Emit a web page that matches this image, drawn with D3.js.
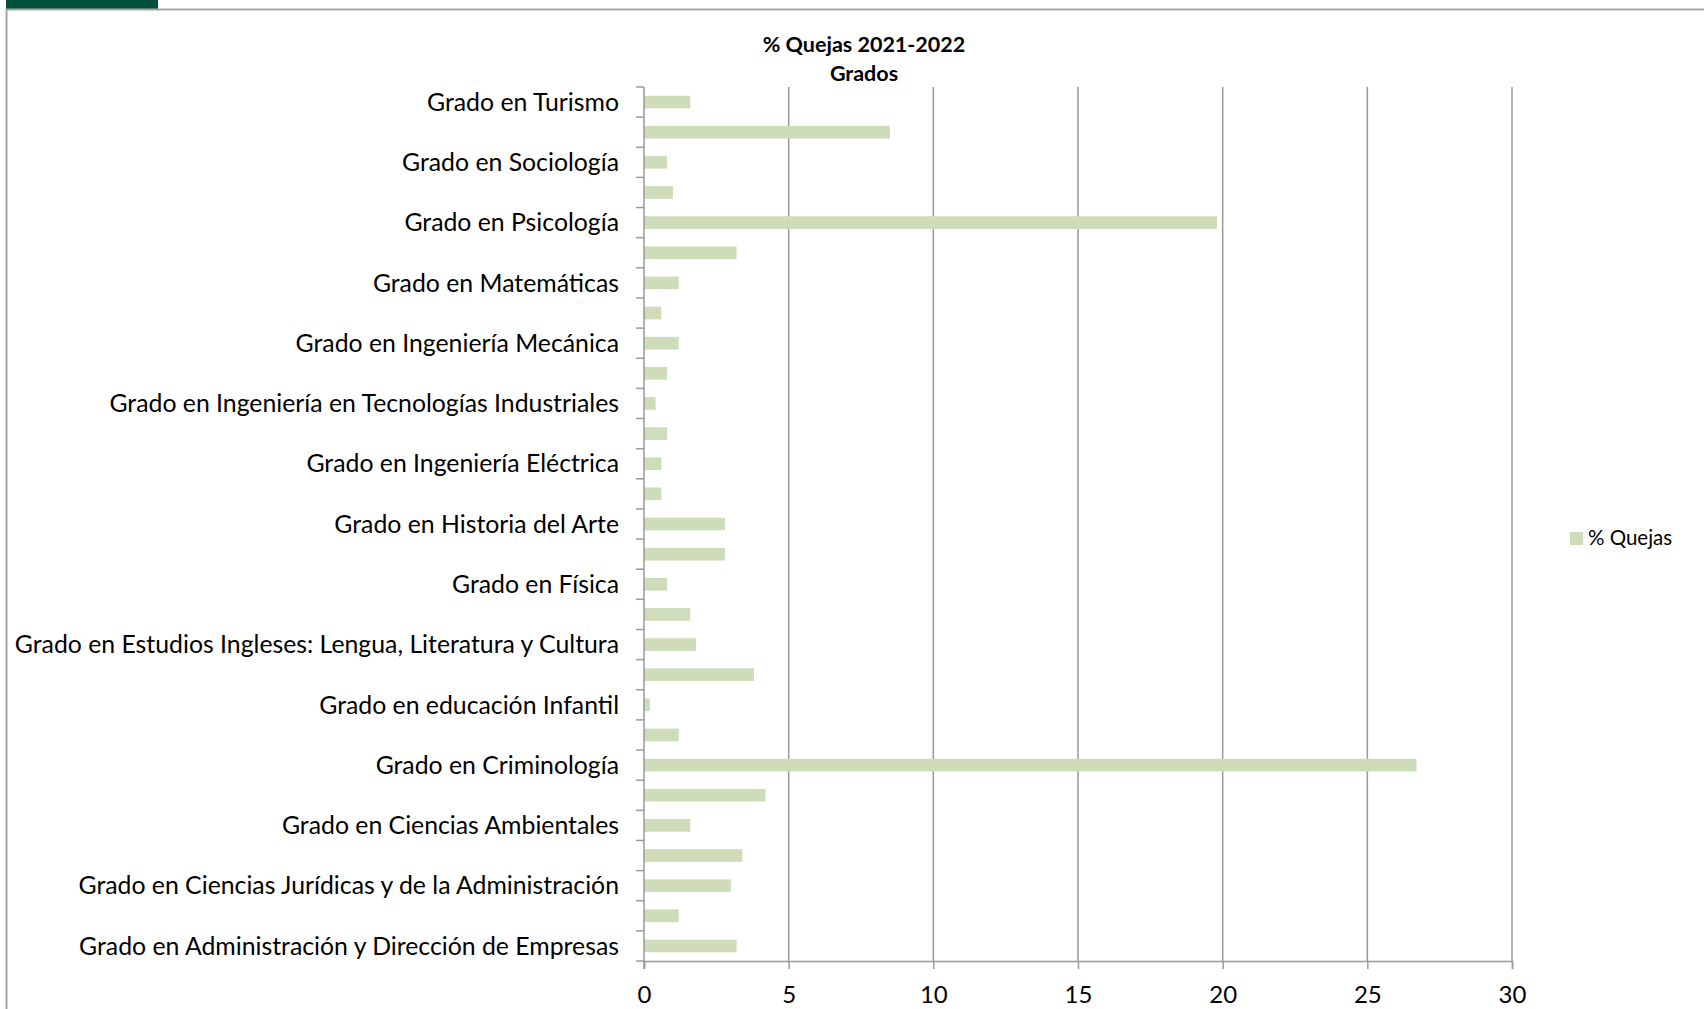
<!DOCTYPE html>
<html>
<head>
<meta charset="utf-8">
<script src="https://cdn.jsdelivr.net/npm/d3@7"></script>
<style>
  html, body { margin: 0; padding: 0; background: #fff; }
  svg { display: block; }
  text { font-family: Lato, "Open Sans", sans-serif; fill: #000; }
</style>
</head>
<body>
<svg id="chart" width="1704" height="1009"></svg>
<script>
// ----- Data (first category is drawn at the bottom, as in the original) -----
const categories = [
    "Grado en Administración y Dirección de Empresas",
    "Grado en Antropología Social y Cultural",
    "Grado en Ciencias Jurídicas y de la Administración",
    "Grado en Ciencia Política y de la Administración",
    "Grado en Ciencias Ambientales",
    "Grado en Economía",
    "Grado en Criminología",
    "Grado en Derecho",
    "Grado en educación Infantil",
    "Grado en Educación Social",
    "Grado en Estudios Ingleses: Lengua, Literatura y Cultura",
    "Grado en Filosofía",
    "Grado en Física",
    "Grado en Geografía e Historia",
    "Grado en Historia del Arte",
    "Grado en Ingeniería de las Tecnologías de la Información",
    "Grado en Ingeniería Eléctrica",
    "Grado en Ingeniería Electrónica Industrial y Automática",
    "Grado en Ingeniería en Tecnologías Industriales",
    "Grado en Ingeniería Informática",
    "Grado en Ingeniería Mecánica",
    "Grado en Lengua y Literatura Españolas",
    "Grado en Matemáticas",
    "Grado en Pedagogía",
    "Grado en Psicología",
    "Grado en Química",
    "Grado en Sociología",
    "Grado en Trabajo Social",
    "Grado en Turismo"
];
const quejas = [
    3.2, 1.2, 3.0, 3.4, 1.6, 4.2, 26.7, 1.2, 0.2, 3.8,
    1.8, 1.6, 0.8, 2.8, 2.8, 0.6, 0.6, 0.8, 0.4, 0.8,
    1.2, 0.6, 1.2, 3.2, 19.8, 1.0, 0.8, 8.5, 1.6
];
const xTicks = [0, 5, 10, 15, 20, 25, 30];
const seriesName = "% Quejas";
const titleLines = ["% Quejas 2021-2022", "Grados"];

// ----- Layout ---------------------------------------------------------------
const W = 1704, H = 1009;
const plot = { left: 644, right: 1512, top: 87, bottom: 961 };
const barColor = "#cedcb9";
const axisColor = "#999999";

const svg = d3.select("#chart");

// frame + green tab
svg.append("rect").attr("x", 6).attr("y", 0).attr("width", 152).attr("height", 9).attr("fill", "#00513a");
svg.append("path")
    .attr("d", `M6.5,${H} V9.5 H${W}`)
    .attr("fill", "none").attr("stroke", "#a6a6a6").attr("stroke-width", 2);

const x = d3.scaleLinear().domain([0, 30]).range([plot.left, plot.right]);
const y = d3.scaleBand()
    .domain(categories)
    .range([plot.bottom, plot.top])
    .paddingInner(0.58)
    .paddingOuter(0.29);
const step = y.step();

// gridlines
svg.append("g")
    .selectAll("line")
    .data(xTicks.filter((d) => d > 0))
    .join("line")
    .attr("x1", (d) => x(d)).attr("x2", (d) => x(d))
    .attr("y1", plot.top).attr("y2", plot.bottom)
    .attr("stroke", axisColor).attr("stroke-width", 1.5);

// bars
svg.append("g")
    .selectAll("rect")
    .data(categories.map((c, i) => ({ c, v: quejas[i] })))
    .join("rect")
    .attr("x", x(0))
    .attr("y", (d) => y(d.c))
    .attr("width", (d) => x(d.v) - x(0))
    .attr("height", y.bandwidth())
    .attr("fill", barColor);

// x axis
const xAxis = svg.append("g")
    .attr("transform", `translate(0,${plot.bottom})`)
    .call(d3.axisBottom(x).tickValues(xTicks).tickSize(8).tickPadding(17).tickFormat(d3.format("d")));
xAxis.select(".domain").attr("stroke", axisColor).attr("stroke-width", 1.5);
xAxis.selectAll(".tick line").attr("stroke", axisColor).attr("stroke-width", 1.5);
xAxis.selectAll(".tick text").attr("font-size", 24).attr("font-family", "Lato").attr("fill", "#000");

// y axis: line + ticks at category boundaries
const yAxis = svg.append("g");
yAxis.append("line")
    .attr("x1", plot.left).attr("x2", plot.left)
    .attr("y1", plot.top).attr("y2", plot.bottom + 8)
    .attr("stroke", axisColor).attr("stroke-width", 1.5);
yAxis.selectAll("line.tk")
    .data(d3.range(categories.length + 1))
    .join("line")
    .attr("class", "tk")
    .attr("x1", plot.left - 8).attr("x2", plot.left)
    .attr("y1", (i) => plot.bottom - i * step).attr("y2", (i) => plot.bottom - i * step)
    .attr("stroke", axisColor).attr("stroke-width", 1.5);

// category labels (every other one fits)
yAxis.selectAll("text")
    .data(categories.filter((c, i) => i % 2 === 0))
    .join("text")
    .attr("x", plot.left - 25)
    .attr("y", (d) => y(d) + y.bandwidth() / 2)
    .attr("dy", "0.35em")
    .attr("text-anchor", "end")
    .attr("font-size", 24.8)
    .text((d) => d);

// title
svg.append("g")
    .selectAll("text")
    .data(titleLines)
    .join("text")
    .attr("x", 864)
    .attr("y", (d, i) => 52 + i * 29)
    .attr("text-anchor", "middle")
    .attr("font-size", 21.5)
    .attr("font-weight", "bold")
    .text((d) => d);

// legend
const legend = svg.append("g").attr("transform", "translate(1570,532)");
legend.append("rect").attr("width", 13).attr("height", 13).attr("fill", barColor);
legend.append("text").attr("x", 18).attr("y", 13).attr("font-size", 20.5).text(seriesName);
</script>
</body>
</html>
